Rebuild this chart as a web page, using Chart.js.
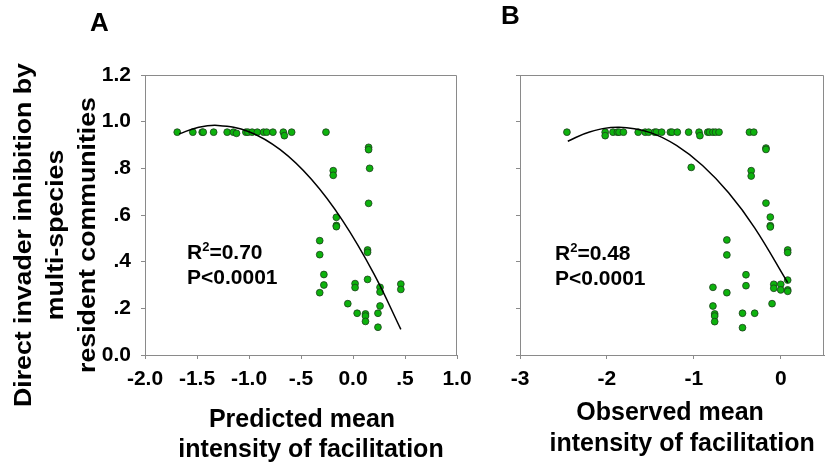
<!DOCTYPE html>
<html>
<head>
<meta charset="utf-8">
<script src="https://cdn.jsdelivr.net/npm/chart.js@4.4.1/dist/chart.umd.min.js"></script>
<style>
    body { margin: 0; background: #fff; width: 829px; height: 468px; overflow: hidden; position: relative; font-family: "Liberation Sans", Arial, sans-serif; }
    canvas { position: absolute; top: 0; }
    .panel-letter { position: absolute; font-size: 26px; line-height: 26px; font-weight: bold; color: #000; }
    .stats { position: absolute; font-size: 21px; line-height: 22px; font-weight: bold; color: #000; white-space: nowrap; }
    .stats .sup { font-size: 13px; position: relative; top: -8px; }
</style>
</head>
<body>
<canvas id="chartA" width="480" height="468" style="left:0"></canvas>
<canvas id="chartB" width="349" height="468" style="left:480px"></canvas>

<div class="panel-letter" style="left:90px; top:9px">A</div>
<div class="panel-letter" style="left:501px; top:2px">B</div>
<div class="stats" style="left:187px; top:241px">R<span class="sup">2</span>=0.70<br>P&lt;0.0001</div>
<div class="stats" style="left:555px; top:242px">R<span class="sup">2</span>=0.48<br>P&lt;0.0001</div>

<script>
// Panel A - predicted mean intensity of facilitation
const predX = [-1.69, -1.54, -1.45, -1.44, -1.34, -1.21, -1.15, -1.12, -1.03, -1.01, -0.97, -0.92, -0.86, -0.83, -0.77, -0.67, -0.66, -0.59, -0.26,
    0.15, 0.15, 0.16, -0.19, -0.19, 0.15, -0.16, -0.16, -0.16, -0.32, -0.32, 0.14, 0.14, -0.28, -0.28, -0.32,
    0.02, 0.02, 0.14, 0.26, 0.26, 0.46, 0.46, -0.05, 0.04, 0.12, 0.12, 0.12, 0.24, 0.26, 0.24];
const predY = [0.955, 0.955, 0.955, 0.955, 0.955, 0.955, 0.955, 0.95, 0.955, 0.955, 0.955, 0.955, 0.955, 0.955, 0.955, 0.955, 0.94, 0.955, 0.955,
    0.89, 0.88, 0.80, 0.79, 0.77, 0.65, 0.59, 0.555, 0.55, 0.49, 0.43, 0.45, 0.44, 0.345, 0.30, 0.267,
    0.306, 0.289, 0.324, 0.29, 0.27, 0.304, 0.281, 0.22, 0.179, 0.176, 0.167, 0.144, 0.179, 0.21, 0.119];
// fitted curve
const predCurveX = [-1.67, -1.5, -1.3, -1.0, -0.7, -0.4, -0.1, 0.2, 0.46];
const predCurveY = [0.948, 0.974, 0.984, 0.957, 0.880, 0.753, 0.576, 0.349, 0.11];

// Panel B - observed mean intensity of facilitation
const obsX = [-2.46, -2.02, -2.02, -1.93, -1.88, -1.86, -1.81, -1.64, -1.56, -1.52, -1.45, -1.43, -1.37, -1.27, -1.25, -1.19, -1.06, -0.94, -0.93,
    -0.84, -0.82, -0.78, -0.75, -0.71, -0.36, -0.31,
    -1.03, -0.17, -0.17, -0.34, -0.34, -0.17, -0.12, -0.12, -0.12, -0.62, -0.62, -0.62, -0.78, -0.78, -0.76, -0.76, -0.76,
    -0.40, -0.40, -0.44, -0.44, -0.30, -0.10, -0.08, -0.08, 0.0, 0.0, 0.08, 0.08, 0.08, 0.08, 0.08];
const obsY = [0.955, 0.955, 0.94, 0.955, 0.955, 0.955, 0.955, 0.955, 0.955, 0.955, 0.955, 0.955, 0.955, 0.955, 0.955, 0.955, 0.955, 0.955, 0.94,
    0.955, 0.955, 0.955, 0.955, 0.955, 0.955, 0.955,
    0.804, 0.887, 0.881, 0.79, 0.767, 0.651, 0.591, 0.554, 0.549, 0.493, 0.429, 0.267, 0.29, 0.21, 0.176, 0.167, 0.143,
    0.344, 0.297, 0.179, 0.117, 0.179, 0.22, 0.303, 0.286, 0.303, 0.279, 0.45, 0.439, 0.321, 0.279, 0.273];
const obsCurveX = [-2.45, -2.2, -1.86, -1.5, -1.2, -0.9, -0.6, -0.3, 0.08];
const obsCurveY = [0.916, 0.956, 0.976, 0.953, 0.898, 0.812, 0.695, 0.545, 0.31];

// Tick labels and titles
const yTickLabels = ['0.0', '.2', '.4', '.6', '.8', '1.0', '1.2'];
const predTickLabels = ['-2.0', '-1.5', '-1.0', '-.5', '0.0', '.5', '1.0'];
const obsTickLabels = ['-3', '-2', '-1', '0'];
const yTitleLines = ['Direct invader inhibition by', 'multi-species', 'resident communities'];
const predTitleLines = ['Predicted mean', 'intensity of facilitation'];
const obsTitleLines = ['Observed mean', 'intensity of facilitation'];

const axisGray = '#8a8a8a';
const dotFill = '#0db20d';
const dotEdge = '#1d3d1d';
const fontFamily = '"Liberation Sans", Arial, sans-serif';

function toPoints(xs, ys) {
    return xs.map((x, i) => ({ x: x, y: ys[i] }));
}

// Draws the grey box around the plot area (top + right edges)
const frame = {
    id: 'frame',
    afterDraw(chart) {
        const a = chart.chartArea;
        const ctx = chart.ctx;
        ctx.save();
        ctx.strokeStyle = axisGray;
        ctx.lineWidth = 1;
        ctx.beginPath();
        ctx.moveTo(Math.round(a.left) + 0.5, Math.round(a.top) + 0.5);
        ctx.lineTo(Math.round(a.right) - 0.5, Math.round(a.top) + 0.5);
        ctx.lineTo(Math.round(a.right) - 0.5, Math.round(a.bottom) + 0.5);
        ctx.stroke();
        ctx.restore();
    }
};

// Axis titles: y title rotated (slightly stretched like the original), x title in two lines
const titles = {
    id: 'titles',
    afterDraw(chart, args, opts) {
        const ctx = chart.ctx;
        const a = chart.chartArea;
        ctx.save();
        ctx.fillStyle = '#000';
        ctx.textAlign = 'center';
        ctx.textBaseline = 'alphabetic';

        if (opts.yLines) {
            const baselines = [31, 63, 95];
            ctx.font = 'bold 23px ' + fontFamily;
            opts.yLines.forEach((line, i) => {
                ctx.save();
                ctx.translate(baselines[i], 235);
                ctx.rotate(-Math.PI / 2);
                ctx.scale(1.16, 1);
                ctx.fillText(line, 0, 0);
                ctx.restore();
            });
        }

        ctx.font = 'bold 25px ' + fontFamily;
        const cx = (a.left + a.right) / 2;
        opts.xLines.forEach((line, i) => {
            ctx.fillText(line, cx + opts.xShift[i], opts.xBaselines[i]);
        });
        ctx.restore();
    }
};

function makeChart(id, cfg) {
    const ctx = document.getElementById(id).getContext('2d');
    return new Chart(ctx, {
        type: 'scatter',
        data: {
            datasets: [{
                data: toPoints(cfg.curveX, cfg.curveY),
                showLine: true,
                borderColor: '#000',
                borderWidth: 1.5,
                pointRadius: 0,
                tension: 0.4,
                fill: false
            }, {
                data: toPoints(cfg.xs, cfg.ys),
                pointRadius: 3.4,
                pointBackgroundColor: dotFill,
                pointBorderColor: dotEdge,
                pointBorderWidth: 0.8,
                showLine: false
            }]
        },
        options: {
            responsive: false,
            animation: false,
            devicePixelRatio: 1,
            layout: { padding: { top: 75, right: cfg.padRight, bottom: 0, left: 0 } },
            plugins: {
                legend: { display: false },
                tooltip: { enabled: false },
                titles: {
                    yLines: cfg.yLines,
                    xLines: cfg.xLines,
                    xShift: cfg.xShift,
                    xBaselines: cfg.xBaselines
                }
            },
            scales: {
                x: {
                    type: 'linear',
                    min: cfg.xMin,
                    max: cfg.xMax,
                    afterFit: (scale) => { scale.height = 113; },
                    ticks: {
                        stepSize: cfg.xStep,
                        includeBounds: false,
                        padding: 8,
                        color: '#000',
                        font: { family: fontFamily, size: 21, weight: 'bold' },
                        callback: (v, i) => cfg.xLabels[i]
                    },
                    grid: { drawOnChartArea: false, tickLength: 4, color: axisGray },
                    border: { color: axisGray },
                    title: { display: false }
                },
                y: {
                    min: 0,
                    max: 1.2,
                    afterFit: (scale) => { scale.width = cfg.yWidth; },
                    ticks: {
                        stepSize: 0.2,
                        padding: 10,
                        color: '#000',
                        font: { family: fontFamily, size: 21, weight: 'bold' },
                        callback: (v, i) => cfg.showY ? yTickLabels[i] : ''
                    },
                    grid: { drawOnChartArea: false, tickLength: 4, color: axisGray },
                    border: { color: axisGray },
                    title: { display: false }
                }
            }
        },
        plugins: [frame, titles]
    });
}

const chartA = makeChart('chartA', {
    xs: predX, ys: predY, curveX: predCurveX, curveY: predCurveY,
    xMin: -2, xMax: 1, xStep: 0.5, xLabels: predTickLabels,
    xLines: predTitleLines, xShift: [1, 10], xBaselines: [427, 457],
    padRight: 23, yWidth: 145, showY: true, yLines: yTitleLines
});

const chartB = makeChart('chartB', {
    xs: obsX, ys: obsY, curveX: obsCurveX, curveY: obsCurveY,
    xMin: -3, xMax: 0.5, xStep: 1, xLabels: obsTickLabels,
    xLines: obsTitleLines, xShift: [-2, 10], xBaselines: [420, 451],
    padRight: 1, yWidth: 40, showY: false, yLines: null
});
</script>
</body>
</html>
